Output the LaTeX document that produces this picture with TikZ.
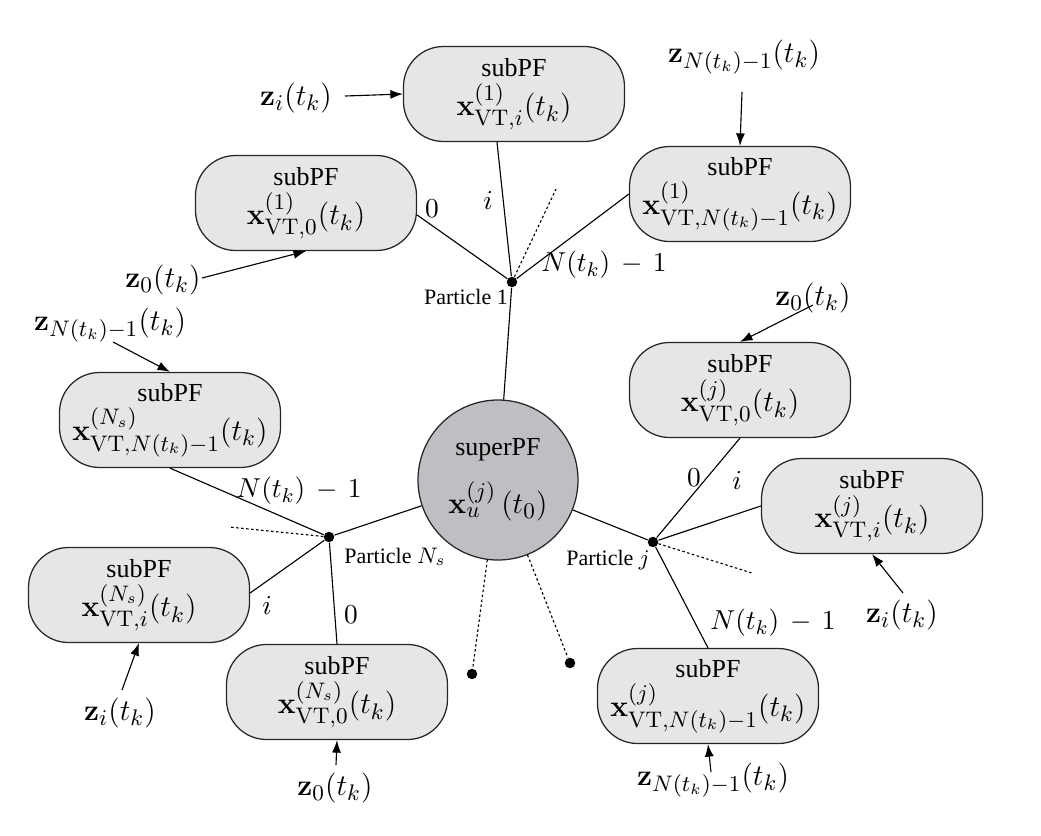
\documentclass[tikz,border=0pt]{standalone}
\usepackage[no-math]{fontspec}
\setmainfont{Liberation Serif}
\usetikzlibrary{arrows.meta,calc}
\definecolor{boxfill}{RGB}{229,230,232}
\definecolor{supfill}{RGB}{190,191,194}
\newcommand{\subpf}[1]{subPF\\[1.5pt]{\fontsize{12.5}{13}\selectfont$\mathbf{x}#1(t_k)$}}
\begin{document}
\begin{tikzpicture}[x=0.4pt,y=-0.4pt,
  sub/.style={draw=black!85, line width=0.5pt, fill=boxfill, rounded corners=16pt,
    minimum width=88.4pt, minimum height=38pt, inner sep=0pt, align=center,
    font=\fontsize{10.4}{11}\selectfont},
  sup/.style={circle, draw=black!85, line width=0.5pt, fill=supfill, minimum size=64pt,
    inner sep=0pt, align=center, font=\fontsize{10.4}{11}\selectfont},
  dot/.style={circle, fill=black, inner sep=0pt, minimum size=4.2pt},
  conn/.style={line width=0.45pt, black},
  dots/.style={line width=0.45pt, black, dash pattern=on 1pt off 1pt},
  arr/.style={line width=0.45pt, black, -{Latex[length=5pt,width=3.6pt]}},
  zlab/.style={inner sep=0pt, font=\fontsize{12.5}{13}\selectfont},
  elab/.style={inner sep=0pt, font=\fontsize{11}{12}\selectfont},
  plab/.style={inner sep=0pt, font=\fontsize{8.8}{10}\selectfont}]
\useasboundingbox (0,0) rectangle (1041,835);

% superPF
\node[sup] (sup) at (498,480) {superPF\\[7pt]{\fontsize{12.5}{13}\selectfont$\mathbf{x}^{(j)}_{u}\,(t_0)$}};

% particles
\node[dot] (p1) at (512,282) {};
\node[dot] (pN) at (329,537) {};
\node[dot] (pj) at (653,542) {};
\node[dot] (d1) at (472,674) {};
\node[dot] (d2) at (570,663) {};

% boxes of particle 1
\node[sub] (b1i) at (514,94) {\subpf{^{(1)}_{\mathrm{VT},i}}};
\node[sub] (b1z) at (306,203) {\subpf{^{(1)}_{\mathrm{VT},0}}};
\node[sub] (b1n) at (740,194) {\subpf{^{(1)}_{\mathrm{VT},N(t_k)-1}}};
% boxes of particle N_s
\node[sub] (bNn) at (170,420) {\subpf{^{(N_s)}_{\mathrm{VT},N(t_k)-1}}};
\node[sub] (bNi) at (139,595) {\subpf{^{(N_s)}_{\mathrm{VT},i}}};
\node[sub] (bNz) at (337,692) {\subpf{^{(N_s)}_{\mathrm{VT},0}}};
% boxes of particle j
\node[sub] (bjz) at (740,390) {\subpf{^{(j)}_{\mathrm{VT},0}}};
\node[sub] (bji) at (872,506) {\subpf{^{(j)}_{\mathrm{VT},i}}};
\node[sub] (bjn) at (708,696) {\subpf{^{(j)}_{\mathrm{VT},N(t_k)-1}}};

% connectors: superPF to particles
\draw[conn] (sup) -- (p1);
\draw[conn] (sup) -- (pN);
\draw[conn] (sup) -- (pj);
\draw[dots] (sup) -- (d1);
\draw[dots] (sup) -- (d2);

% particle 1
\coordinate (e1) at (556,189);
\draw[conn] (p1) -- ($(b1i.south)+(-17,0)$);
\draw[conn] (p1) -- ($(b1z.east)+(0,12)$);
\draw[conn] (p1) -- (b1n.west);
\draw[dots] (p1) -- (e1);
% particle N_s
\coordinate (eN) at (229,527);
\draw[conn] (pN) -- (bNn.south);
\draw[conn] (pN) -- ($(bNi.east)+(0,-2)$);
\draw[conn] (pN) -- (bNz.north);
\draw[dots] (pN) -- (eN);
% particle j
\coordinate (ej) at (752,573);
\draw[conn] (pj) -- (bjz.south);
\draw[conn] (pj) -- (bji.west);
\draw[conn] (pj) -- (bjn.north);
\draw[dots] (pj) -- (ej);

% edge labels
\node[elab] (l1z) at (432,209) {$0$};
\node[elab] (l1i) at (488,200) {$i$};
\node[elab] (l1n) at (604,265) {$N(t_k)\,-\,1$};
\node[plab] (t1) at (466,297) {Particle 1};
\node[elab] (lNn) at (299,491) {$N(t_k)\,-\,1$};
\node[elab] (lNi) at (267,605) {$i$};
\node[elab] (lNz) at (351,615) {$0$};
\node[plab] (tN) at (395,557) {Particle $N_s$};
\node[elab] (ljz) at (694,478) {$0$};
\node[elab] (lji) at (737,480) {$i$};
\node[elab] (ljn) at (773,623) {$N(t_k)\,-\,1$};
\node[plab] (tj) at (608,560) {Particle $j$};

% measurement inputs
\node[zlab] (z1i) at (296,98) {$\mathbf{z}_i(t_k)$};
\node[zlab] (z1z) at (163,280) {$\mathbf{z}_0(t_k)$};
\node[zlab] (z1n) at (744,57) {$\mathbf{z}_{N(t_k)-1}(t_k)$};
\node[zlab] (zNn) at (110,325) {$\mathbf{z}_{N(t_k)-1}(t_k)$};
\node[zlab] (zNi) at (120,713) {$\mathbf{z}_i(t_k)$};
\node[zlab] (zNz) at (335,788) {$\mathbf{z}_0(t_k)$};
\node[zlab] (zjz) at (813,298) {$\mathbf{z}_0(t_k)$};
\node[zlab] (zji) at (902,615) {$\mathbf{z}_i(t_k)$};
\node[zlab] (zjn) at (713,780) {$\mathbf{z}_{N(t_k)-1}(t_k)$};

\coordinate (a1i) at (345,96);
\coordinate (a1z) at (202,278);
\coordinate (a1n) at (742,92);
\coordinate (aNn) at (113,342);
\coordinate (aNi) at (122,690);
\coordinate (aNz) at (336,765);
\coordinate (ajz) at (813,305);
\coordinate (aji) at (903,593);
\coordinate (ajn) at (711,772);
\draw[arr] (a1i) -- (b1i.west);
\draw[arr] (a1z) -- (b1z.south);
\draw[arr] (a1n) -- (b1n.north);
\draw[arr] (aNn) -- (bNn.north);
\draw[arr] (aNi) -- (bNi.south);
\draw[arr] (aNz) -- (bNz.south);
\draw[arr] (ajz) -- (bjz.north);
\draw[arr] (aji) -- (bji.south);
\draw[arr] (ajn) -- (bjn.south);
\end{tikzpicture}
\end{document}
